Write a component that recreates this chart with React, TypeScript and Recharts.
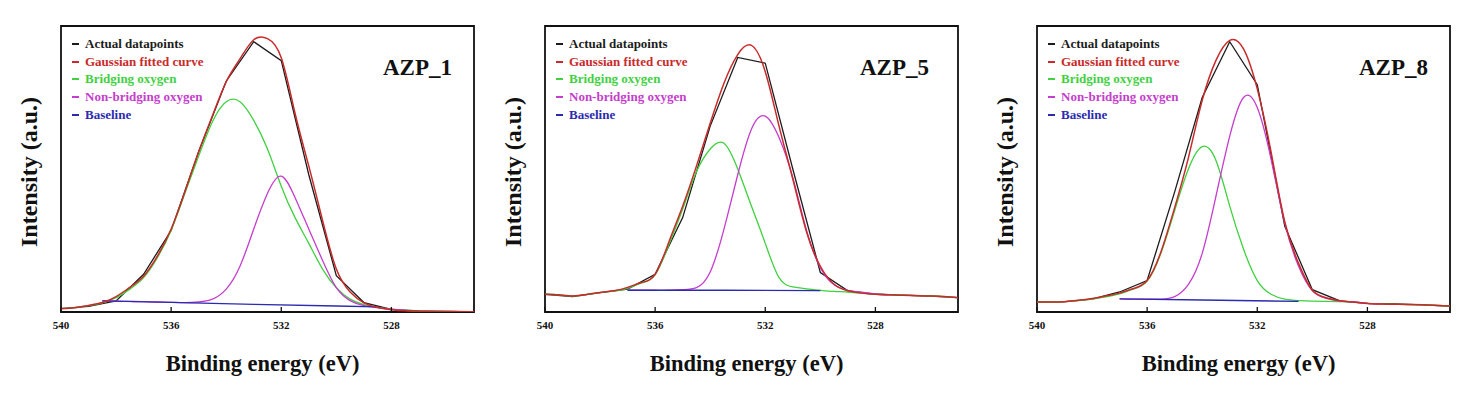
import React from 'react';
import { LineChart, Line, XAxis, YAxis, ReferenceArea, Legend } from 'recharts';

const SERIF = '"Liberation Serif", "Times New Roman", Times, serif';

// Binding-energy grids (eV)
const FIT_E = [540, 539.5, 539, 538.5, 538, 537.5, 537, 536.5, 536, 535.5, 535, 534.5, 534, 533.5, 533, 532.5, 532, 531.5, 531, 530.5, 530, 529.5, 529, 528.5, 528, 527.5, 527, 526.5, 526, 525.5, 525];
const DATA_E = [540, 539, 538, 537, 536, 535, 534, 533, 532, 531, 530, 529, 528, 527, 526, 525];
const X_TICKS = [540, 536, 532, 528];
const TITLES = ['AZP_1', 'AZP_5', 'AZP_8'];
const LEGEND_NAMES = ['Actual datapoints', 'Gaussian fitted curve', 'Bridging oxygen', 'Non-bridging oxygen', 'Baseline'];
const X_LABEL = 'Binding energy (eV)';
const Y_LABEL = 'Intensity (a.u.)';

// AZP_1
const P1_ACTUAL = [1.2, 2.0, 3.9, 13.2, 28.5, 56, 80.7, 94.5, 87.9, 48, 12.7, 3.3, 0.9, 0.4, 0.2, 0.1];
const P1_FIT = [1.2, 1.5, 2.3, 3.3, 5.4, 8.6, 12.5, 19.5, 29, 42, 56, 68.6, 80.5, 88.5, 95.2, 95.6, 88.9, 69.5, 51, 32, 15, 7, 3.2, 1.6, 0.8, 0.4, 0.3, 0.2, 0.2, 0.1, 0.1];
const P1_BRIDGING = [1.2, 1.5, 2.2, 3.2, 5.0, 8.0, 12, 19, 28.5, 41.5, 54.5, 66.5, 73.5, 73.5, 67, 57, 44, 33, 24, 15, 8.5, 4.5, 2.6, 1.6, 1.0, 0.6, 0.3, 0.2, 0.2, 0.1, 0.1];
const P1_NONBRIDGING = [null, null, null, 3.9, 3.8, 3.7, 3.6, 3.5, 3.4, 3.3, 3.5, 4.5, 8, 16, 29, 41.5, 47.5, 40, 29, 18, 8.5, 4, 2.2, 1.5, 1.0, 0.6, null, null, null, null, null];
const P1_BASE_E = [538.5, 536, 533, 530, 528.5];
const P1_BASE = [3.9, 3.4, 2.7, 2.1, 1.8];

// AZP_5
const P2_ACTUAL = [6.2, 5.4, 6.8, 8.0, 13.2, 33, 65, 89, 87, 50, 13.8, 7.4, 6.2, 5.9, 5.6, 5.0];
const P2_FIT = [6.2, 6.0, 5.6, 6.1, 6.8, 7.4, 8.6, 10.3, 13.2, 24.5, 37, 51, 66, 80, 90, 93.2, 84, 65, 46.5, 28, 16, 9.7, 7.4, 6.6, 6.2, 6.0, 5.9, 5.7, 5.6, 5.4, 5.0];
const P2_BRIDGING = [6.2, 6.0, 5.6, 6.1, 6.8, 7.3, 8.3, 10.1, 13, 23.5, 36, 49, 57, 59, 50, 37, 24, 12, 8.8, 8.1, 7.6, 7.2, 7.0, 6.6, 6.2, 6.0, 5.9, 5.7, 5.6, 5.4, 5.0];
const P2_NONBRIDGING = [null, null, null, null, null, null, 7.6, 7.6, 7.6, 7.6, 7.8, 8.5, 14, 29, 48, 64, 68.5, 61, 47, 28.5, 15.5, 9.5, 7.6, 6.9, 6.3, 6.0, null, null, null, null, null];
const P2_BASE_E = [537, 533.5, 530];
const P2_BASE = [7.6, 7.6, 7.5];

// AZP_8
const P3_ACTUAL = [3.5, 3.6, 4.5, 7.0, 11, 42, 75, 94.5, 79.5, 30, 7.8, 3.9, 3.0, 2.8, 2.5, 2.1];
const P3_FIT = [3.5, 3.5, 3.6, 4.1, 4.7, 5.6, 6.6, 8.2, 11, 21, 36.5, 54, 74, 88, 95, 92, 78, 56, 31.5, 17, 7.6, 5.0, 3.9, 3.5, 3.0, 2.8, 2.7, 2.6, 2.5, 2.3, 2.1];
const P3_BRIDGING = [3.5, 3.5, 3.6, 4.0, 4.5, 5.3, 6.3, 8.0, 10.8, 20.5, 35.5, 50, 57.8, 53, 37, 22, 11, 6.2, 4.5, 4.0, 3.8, 3.7, 3.6, 3.4, 3.0, 2.8, 2.7, 2.6, 2.5, 2.3, 2.1];
const P3_NONBRIDGING = [null, null, null, null, null, null, 4.6, 4.5, 4.5, 4.5, 5.4, 9.7, 20.5, 40.5, 61.5, 75, 71.5, 53.5, 31, 16, 7.5, 4.8, 3.8, 3.5, 3.0, 2.8, null, null, null, null, null];
const P3_BASE_E = [537, 534, 530.5];
const P3_BASE = [4.6, 4.2, 3.7];

const COLORS = {
  actual: '#1c1c1c',
  fit: '#c92a2a',
  bridging: '#3fd13f',
  nonBridging: '#c53dcc',
  baseline: '#2b2bb0',
};

const toRows = (es: number[], vs: (number | null)[]) =>
  es.map((e, i) => ({ e, v: vs[i] })).filter((r) => r.v !== null && r.v !== undefined);

const PANELS = [
  { title: TITLES[0], actual: toRows(DATA_E, P1_ACTUAL), fit: toRows(FIT_E, P1_FIT), bridging: toRows(FIT_E, P1_BRIDGING), nonBridging: toRows(FIT_E, P1_NONBRIDGING), base: toRows(P1_BASE_E, P1_BASE) },
  { title: TITLES[1], actual: toRows(DATA_E, P2_ACTUAL), fit: toRows(FIT_E, P2_FIT), bridging: toRows(FIT_E, P2_BRIDGING), nonBridging: toRows(FIT_E, P2_NONBRIDGING), base: toRows(P2_BASE_E, P2_BASE) },
  { title: TITLES[2], actual: toRows(DATA_E, P3_ACTUAL), fit: toRows(FIT_E, P3_FIT), bridging: toRows(FIT_E, P3_BRIDGING), nonBridging: toRows(FIT_E, P3_NONBRIDGING), base: toRows(P3_BASE_E, P3_BASE) },
];

// layout
const CHART_W = 490;
const CHART_H = 399;
const PLOT_LEFT = 61;
const PLOT_W = 413;
const PLOT_TOP = 26;
const PLOT_BOTTOM = 312;
const XAXIS_H = 30;
const PANEL_LEFT = [0, 484, 976];
const TITLE_X = [383, 860, 1359];

const renderLegend = (props: any) => {
  const items = [...(props.payload || [])].sort(
    (a: any, b: any) => LEGEND_NAMES.indexOf(a.value) - LEGEND_NAMES.indexOf(b.value)
  );
  return (
    <div style={{ fontFamily: SERIF, fontWeight: 'bold', fontSize: 13, whiteSpace: 'nowrap' }}>
      {items.map((it: any) => (
        <div key={it.value} style={{ display: 'flex', alignItems: 'center', height: 17.8, color: it.color }}>
          <span style={{ display: 'inline-block', width: 7, height: 2, background: it.color, marginRight: 6 }} />
          <span>{it.value}</span>
        </div>
      ))}
    </div>
  );
};

function Panel({ p, left }: { p: any; left: number }) {
  return (
    <div style={{ position: 'absolute', left, top: 0, width: CHART_W, height: CHART_H }}>
      <LineChart
        width={CHART_W}
        height={CHART_H}
        margin={{ top: PLOT_TOP, left: PLOT_LEFT, right: CHART_W - PLOT_LEFT - PLOT_W, bottom: CHART_H - PLOT_BOTTOM - XAXIS_H }}
      >
        <XAxis
          dataKey="e"
          type="number"
          domain={[525, 540]}
          reversed
          allowDataOverflow
          ticks={X_TICKS}
          interval={0}
          height={XAXIS_H}
          axisLine={false}
          tickSize={-5}
          tickMargin={14}
          tickLine={{ stroke: '#111', strokeWidth: 1.3 }}
          tick={{ fontSize: 11, fontWeight: 'bold', fill: '#111', fontFamily: SERIF }}
        />
        <YAxis hide type="number" domain={[0, 100]} allowDataOverflow />
        <Line data={p.actual} dataKey="v" name={LEGEND_NAMES[0]} type="linear" stroke={COLORS.actual} strokeWidth={1.3} dot={false} isAnimationActive={false} />
        <Line data={p.bridging} dataKey="v" name={LEGEND_NAMES[2]} type="natural" stroke={COLORS.bridging} strokeWidth={1.3} dot={false} isAnimationActive={false} />
        <Line data={p.nonBridging} dataKey="v" name={LEGEND_NAMES[3]} type="natural" stroke={COLORS.nonBridging} strokeWidth={1.3} dot={false} isAnimationActive={false} />
        <Line data={p.base} dataKey="v" name={LEGEND_NAMES[4]} type="linear" stroke={COLORS.baseline} strokeWidth={1.3} dot={false} isAnimationActive={false} />
        <Line data={p.fit} dataKey="v" name={LEGEND_NAMES[1]} type="natural" stroke={COLORS.fit} strokeWidth={1.5} dot={false} isAnimationActive={false} />
        <ReferenceArea x1={540} x2={525} y1={0} y2={100} fill="none" fillOpacity={0} stroke="#111" strokeWidth={1.8} ifOverflow="visible" />
        <Legend
          layout="vertical"
          align="center"
          verticalAlign="middle"
          content={renderLegend}
          wrapperStyle={{ left: PLOT_LEFT + 11, top: 35, width: 'auto', height: 'auto' }}
        />
      </LineChart>
    </div>
  );
}

export default function App() {
  return (
    <div style={{ position: 'absolute', left: 0, top: 0, width: 1477, height: 399, background: '#fff' }}>
      {PANELS.map((p, i) => (
        <Panel key={p.title} p={p} left={PANEL_LEFT[i]} />
      ))}
      <svg width={1477} height={399} style={{ position: 'absolute', left: 0, top: 0, pointerEvents: 'none' }}>
        {PANELS.map((p, i) => {
          const plotLeft = PANEL_LEFT[i] + PLOT_LEFT;
          const cx = plotLeft + PLOT_W / 2 - 5;
          const yx = plotLeft - 24;
          const yc = 172;
          return (
            <g key={p.title} fontFamily={SERIF} fontWeight="bold" fill="#111">
              <text x={TITLE_X[i]} y={75} fontSize={23}>{p.title}</text>
              <text x={cx} y={371} fontSize={22.5} textAnchor="middle">{X_LABEL}</text>
              <text x={yx} y={yc} fontSize={24} textAnchor="middle" transform={`rotate(-90, ${yx}, ${yc})`}>{Y_LABEL}</text>
            </g>
          );
        })}
      </svg>
    </div>
  );
}
